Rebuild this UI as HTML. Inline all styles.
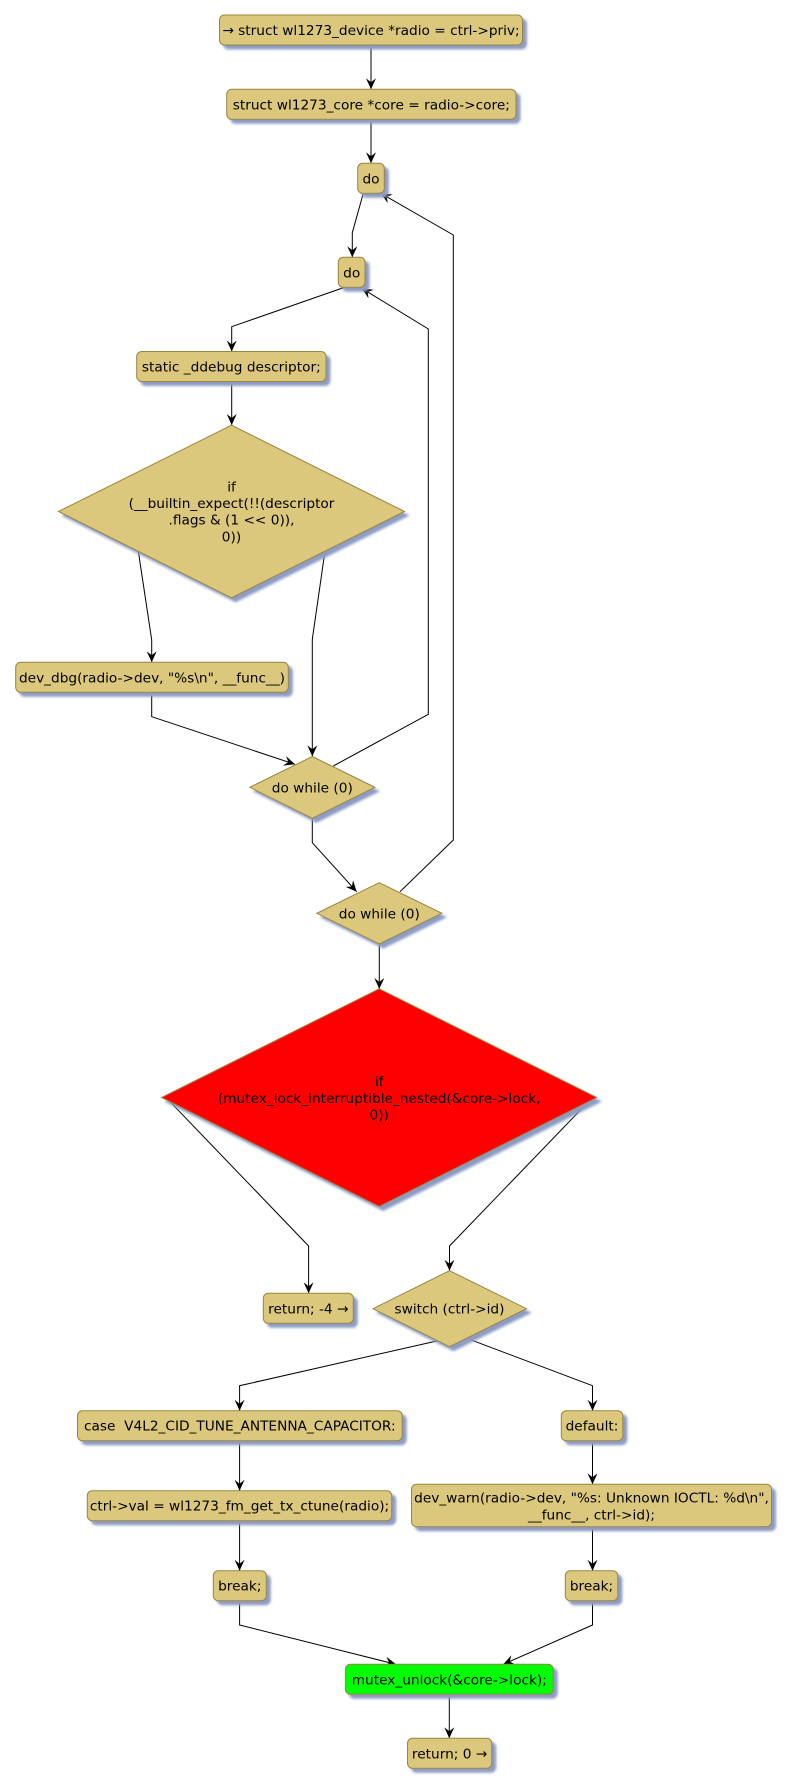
<!DOCTYPE html>
<html>
<head>
<meta charset="utf-8">
<style>
html,body{margin:0;padding:0;background:#fff;}
svg{display:block;}
text{font-family:"DejaVu Sans","Liberation Sans",sans-serif;font-size:13.7px;fill:#000;}
</style>
</head>
<body>
<svg width="791" height="1787" viewBox="0 0 791 1787" xmlns="http://www.w3.org/2000/svg">
<defs>
<filter id="sh" x="-10%" y="-10%" width="130%" height="140%">
<feOffset in="SourceAlpha" dx="4" dy="4" result="o"/>
<feGaussianBlur in="o" stdDeviation="1.2" result="b"/>
<feFlood flood-color="#8d9cc3" result="c"/>
<feComposite in="c" in2="b" operator="in" result="s"/>
<feMerge><feMergeNode in="s"/><feMergeNode in="SourceGraphic"/></feMerge>
</filter>
<marker id="ah" markerUnits="userSpaceOnUse" markerWidth="12" markerHeight="12" refX="11" refY="5" orient="auto">
<path d="M0,0 L11,5 L0,10 L4,5 Z" fill="#000"/>
</marker>
</defs>

<!-- edges -->
<g fill="none" stroke="#000" stroke-width="1" marker-end="url(#ah)">
<polyline points="371,45 371,89.3"/>
<polyline points="371,119.3 371,163.3"/>
<polyline points="363.3,193.3 352.3,232.7 352.3,257.3"/>
<polyline points="344,287.5 231.7,326.7 231.7,351.5"/>
<polyline points="231.7,381.5 231.7,425"/>
<polyline points="138.3,551 151.7,640 151.7,662.3"/>
<polyline points="325,551 312.3,639.3 312.3,756.3"/>
<polyline points="151.7,692.3 151.7,716.7 295,764.3"/>
<polyline points="333.3,766 428.3,714.3 428.3,329 361.7,288.3"/>
<polyline points="312.3,818.3 312.3,842.7 356.7,891.7"/>
<polyline points="400,891.7 453.3,840 453.3,235 380.7,193.3"/>
<polyline points="379.3,944 379.3,989"/>
<polyline points="170,1101.7 308.6,1246 308.6,1293.3"/>
<polyline points="587.5,1102.7 449.5,1246 449.5,1270.7"/>
<polyline points="436.7,1341 239.6,1385.7 239.6,1410.7"/>
<polyline points="466.7,1338.3 592.5,1385.7 592.5,1410.7"/>
<polyline points="239.6,1440.7 239.6,1490.7"/>
<polyline points="592.5,1440.7 592.5,1484.3"/>
<polyline points="239.6,1520.7 239.6,1570.7"/>
<polyline points="592.5,1526.7 592.5,1570.7"/>
<polyline points="239.6,1600.7 239.6,1625 395.9,1664.3"/>
<polyline points="592.5,1600.7 592.5,1625 503.3,1664.3"/>
<polyline points="449.3,1694.3 449.3,1738.3"/>
</g>

<!-- nodes -->
<g fill="#dcc87c" stroke="#9a8540" stroke-width="1" filter="url(#sh)">
<rect x="219.5" y="15" width="303" height="30" rx="5"/>
<rect x="226.7" y="89.3" width="289.3" height="30" rx="5"/>
<rect x="357.7" y="163.3" width="26.6" height="30" rx="5"/>
<rect x="338.3" y="257.3" width="26.7" height="30" rx="5"/>
<rect x="136.7" y="351.5" width="189.3" height="30" rx="5"/>
<polygon points="231.5,425.2 404.5,511.5 231.5,597.8 58.5,511.5"/>
<rect x="15.7" y="662.3" width="272.6" height="30" rx="5"/>
<polygon points="312.3,756.5 374.8,787.3 312.3,818.3 249.8,787.3"/>
<polygon points="379.3,882.7 441.8,913.3 379.3,944 316.8,913.3"/>
<polygon points="379.2,988.8 596.8,1097.5 379.2,1206.5 161.6,1097.5" fill="#ff0000"/>
<rect x="263.3" y="1293.3" width="90" height="30" rx="5"/>
<polygon points="449.5,1270.7 526.5,1308.7 449.5,1346.7 373,1308.7"/>
<rect x="77.5" y="1410.7" width="324.7" height="30" rx="5"/>
<rect x="561.3" y="1410.7" width="61.5" height="30" rx="5"/>
<rect x="87.3" y="1490.7" width="304.4" height="30" rx="5"/>
<rect x="411.5" y="1484.3" width="360" height="42.4" rx="5"/>
<rect x="213.3" y="1570.7" width="53" height="30" rx="5"/>
<rect x="565.3" y="1570.7" width="52.5" height="30" rx="5"/>
<rect x="345.4" y="1664.3" width="207.8" height="30" rx="5" fill="#00ff00"/>
<rect x="407.5" y="1738.3" width="84.2" height="30" rx="5"/>
</g>

<!-- labels -->
<g text-anchor="middle">
<text x="371" y="35">→ struct wl1273_device *radio = ctrl-&gt;priv;</text>
<text x="371.3" y="109.3">struct wl1273_core *core = radio-&gt;core;</text>
<text x="371" y="183.3">do</text>
<text x="351.7" y="277.3">do</text>
<text x="231.3" y="371.5">static _ddebug descriptor;</text>
<text x="231.5" y="491.3">if</text>
<text x="231.5" y="508">(__builtin_expect(!!(descriptor</text>
<text x="231.5" y="524.7">.flags &amp; (1 &lt;&lt; 0)),</text>
<text x="231.5" y="541.4">0))</text>
<text x="152" y="682.3">dev_dbg(radio-&gt;dev, "%s\n", __func__)</text>
<text x="312.3" y="792.3">do while (0)</text>
<text x="379.3" y="918.3">do while (0)</text>
<text x="379.2" y="1086">if</text>
<text x="379.2" y="1103">(mutex_lock_interruptible_nested(&amp;core-&gt;lock,</text>
<text x="379.2" y="1119.5">0))</text>
<text x="308.3" y="1313.3">return; -4 →</text>
<text x="449.5" y="1313.7">switch (ctrl-&gt;id)</text>
<text x="239.8" y="1430.7" xml:space="preserve">case  V4L2_CID_TUNE_ANTENNA_CAPACITOR:</text>
<text x="592" y="1430.7">default:</text>
<text x="239.5" y="1510.7">ctrl-&gt;val = wl1273_fm_get_tx_ctune(radio);</text>
<text x="591.5" y="1502.5">dev_warn(radio-&gt;dev, "%s: Unknown IOCTL: %d\n",</text>
<text x="591.5" y="1519.5">__func__, ctrl-&gt;id);</text>
<text x="239.8" y="1590.7">break;</text>
<text x="591.5" y="1590.7">break;</text>
<text x="449.3" y="1684.3">mutex_unlock(&amp;core-&gt;lock);</text>
<text x="449.6" y="1758.3">return; 0 →</text>
</g>
</svg>
</body>
</html>
